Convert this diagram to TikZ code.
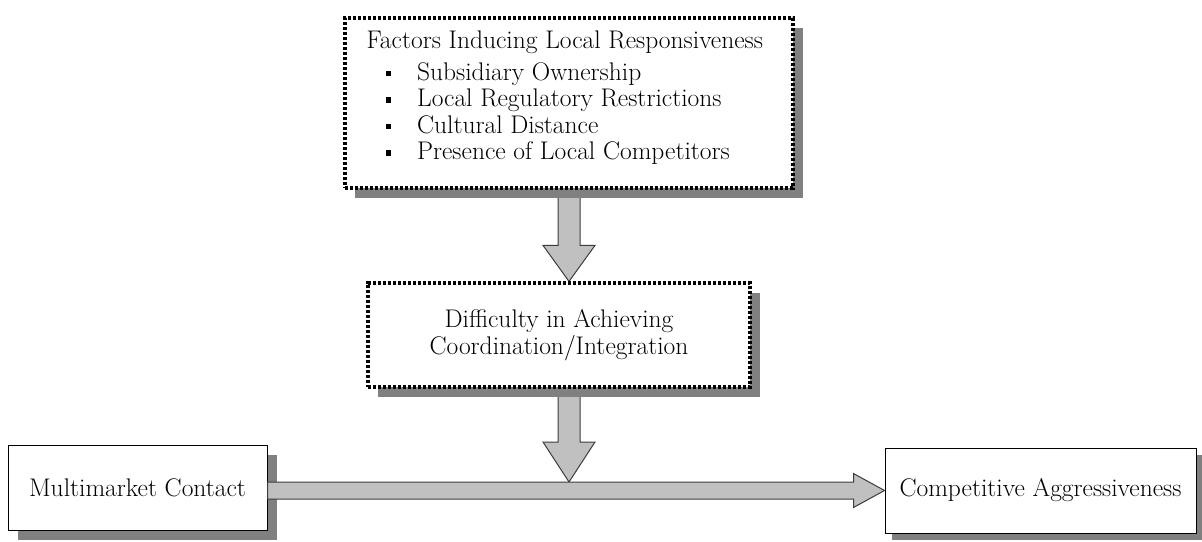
\documentclass[tikz,border=0pt]{standalone}
\usetikzlibrary{calc}
\usetikzlibrary{shadows}
\usetikzlibrary{backgrounds}
\definecolor{shadowgray}{RGB}{128,128,128}
\definecolor{arrowgray}{RGB}{192,192,192}
\definecolor{arrowedge}{RGB}{60,60,60}
\tikzset{dotbox/.style = {draw, line width=3.2pt, dash pattern=on 3.2pt off 1.8pt, fill=white, drop shadow={shadow xshift=10pt, shadow yshift=-10pt, fill=shadowgray, opacity=1}}}
\tikzset{plainbox/.style = {draw, line width=1pt, fill=white, drop shadow={shadow xshift=#1, shadow yshift=-#1, fill=shadowgray, opacity=1}}, plainbox/.default=10pt}
\tikzset{fatarrow/.style = {fill=arrowgray, draw=arrowedge, line width=1pt, line join=miter}}
\newcommand{\sqbullet}{\rule[4pt]{5.5pt}{5.5pt}}
% downward block arrow: start, tip, head length
\newcommand{\fatdown}[3]{\draw [fatarrow] ([xshift=-11pt]#1) -- ([xshift=-11pt, yshift=#3]#2) -- ([xshift=-26pt, yshift=#3]#2) -- (#2) -- ([xshift=26pt, yshift=#3]#2) -- ([xshift=11pt, yshift=#3]#2) -- ([xshift=11pt]#1) -- cycle;}

\begin{document}
\begin{tikzpicture}[x=1pt, y=-1pt, font=\fontsize{25.5pt}{26.5pt}\selectfont]
        \useasboundingbox (0,0) rectangle (1202,541);
        \node [dotbox, minimum width=448pt, minimum height=170pt] (factors) at (569,103) {};
        \node [anchor=north west, align=left, inner sep=0pt] (factorlist) at ($(factors.north west)+(23,14)$) {Factors Inducing Local Responsiveness\\[5.5pt]
            \hspace*{19pt}\sqbullet\hspace{26pt}Subsidiary Ownership\\
            \hspace*{19pt}\sqbullet\hspace{26pt}Local Regulatory Restrictions\\
            \hspace*{19pt}\sqbullet\hspace{26pt}Cultural Distance\\
            \hspace*{19pt}\sqbullet\hspace{26pt}Presence of Local Competitors};
        \node [dotbox, minimum width=382pt, minimum height=104pt, align=center] (difficulty) at (559,335) {Difficulty in Achieving\\Coordination/Integration};
        \node [plainbox, minimum width=259pt, minimum height=85pt] (multimarket) at (137.5,487.5) {Multimarket Contact};
        \node [plainbox=7pt, minimum width=311pt, minimum height=85pt] (aggressiveness) at (1040.5,490.5) {Competitive Aggressiveness};

        \coordinate (tip1) at (factors.south |- difficulty.north);
        \coordinate (hstart) at (multimarket.east |- aggressiveness.west);
        \coordinate (meet) at (factors.south |- hstart);
        \coordinate (tip2) at ([yshift=8.5pt]meet);
        \coordinate (from2) at (factors.south |- difficulty.south);
        \begin{scope}[on background layer]
            \fatdown{factors.south}{tip1}{36pt}
            \fatdown{from2}{tip2}{40pt}
        \end{scope}
        \draw [fatarrow] ([yshift=8.5pt]hstart) -- ([xshift=-31pt, yshift=8.5pt]aggressiveness.west) -- ([xshift=-31pt, yshift=17pt]aggressiveness.west) -- (aggressiveness.west) -- ([xshift=-31pt, yshift=-17pt]aggressiveness.west) -- ([xshift=-31pt, yshift=-8.5pt]aggressiveness.west) -- ([yshift=-8.5pt]hstart) -- cycle;
    \end{tikzpicture}
\end{document}
